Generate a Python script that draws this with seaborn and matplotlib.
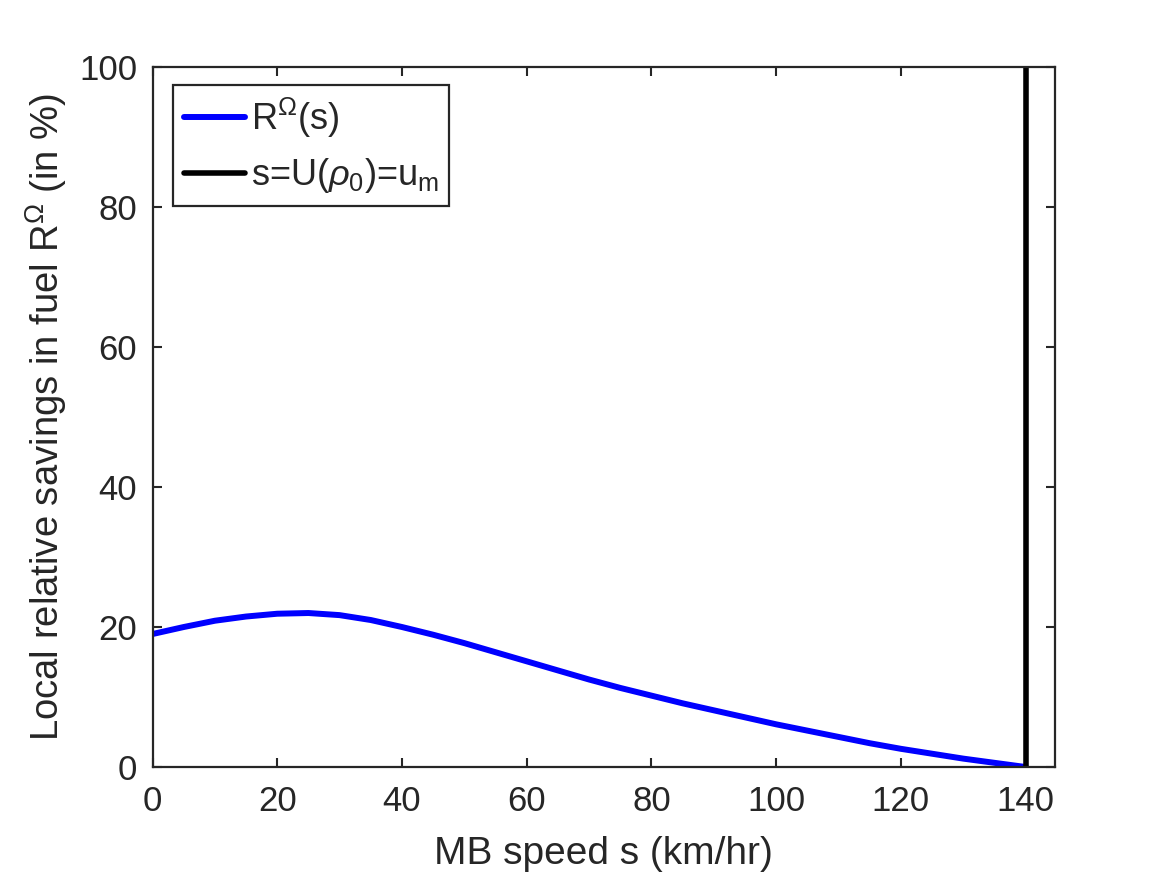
import matplotlib
matplotlib.use("Agg")
import matplotlib.pyplot as plt
import seaborn as sns
import pandas as pd

# Data
speed = [0, 5, 10, 15, 20, 25, 30, 35, 40, 45, 50, 55, 60, 65, 70,
         75, 80, 85, 90, 95, 100, 105, 110, 115, 120, 125, 130, 135, 140]
savings = [19.0, 20.0, 20.9, 21.5, 21.9, 22.0, 21.7, 21.0, 20.0, 18.9, 17.7, 16.4, 15.1, 13.8, 12.5,
           11.3, 10.2, 9.1, 8.1, 7.1, 6.1, 5.2, 4.3, 3.4, 2.6, 1.9, 1.2, 0.6, 0.0]
u_m = 140
v_line_y = [0, 100]
x_ticks = [0, 20, 40, 60, 80, 100, 120, 140]
y_ticks = [0, 20, 40, 60, 80, 100]

sns.set_theme(style="ticks")
plt.rcParams['font.family'] = ['Liberation Sans', 'DejaVu Sans']
plt.rcParams['mathtext.fontset'] = 'custom'
plt.rcParams['mathtext.rm'] = 'Liberation Sans'
plt.rcParams['mathtext.it'] = 'Liberation Sans:italic'
plt.rcParams['mathtext.bf'] = 'Liberation Sans:bold'

dark = '#262626'
fig = plt.figure(figsize=(11.67, 8.75), dpi=100)
ax = fig.add_axes([0.1307, 0.1234, 0.7733, 0.8000])

df = pd.DataFrame({'s': speed, 'R': savings})
sns.lineplot(data=df, x='s', y='R', ax=ax, color='#0000FF', linewidth=4.3,
             label=r'R$^{\Omega}$(s)', estimator=None, sort=False)
ax.plot([u_m, u_m], v_line_y, color='black', linewidth=4.0,
        label=r's=U($\rho_0$)=u$_{\mathrm{m}}$')

ax.set_xlim(0, 144.7)
ax.set_ylim(0, 100)
ax.set_xticks(x_ticks)
ax.set_yticks(y_ticks)
ax.tick_params(direction='in', length=6.5, width=1.5, top=True, right=True,
               labelsize=25, colors=dark)
ax.tick_params(axis='x', pad=13)
ax.tick_params(axis='y', pad=11)
for sp in ax.spines.values():
    sp.set_visible(True)
    sp.set_color(dark)
    sp.set_linewidth(1.6)

ax.set_xlabel('MB speed s (km/hr)', fontsize=28, color=dark, labelpad=13)
ax.set_ylabel(r'Local relative savings in fuel R$^{\Omega}$ (in %)', fontsize=27.5,
              color=dark, labelpad=7)

leg = ax.legend(loc='upper left', bbox_to_anchor=(0.0227, 0.9743), borderaxespad=0,
                fontsize=26, frameon=True, fancybox=False, framealpha=1,
                edgecolor=dark, handlelength=1.7, handletextpad=0.15,
                borderpad=0.3, labelspacing=0.45)
leg.get_frame().set_linewidth(1.6)
for t in leg.get_texts():
    t.set_color(dark)

fig.savefig('out.png', dpi=100)
